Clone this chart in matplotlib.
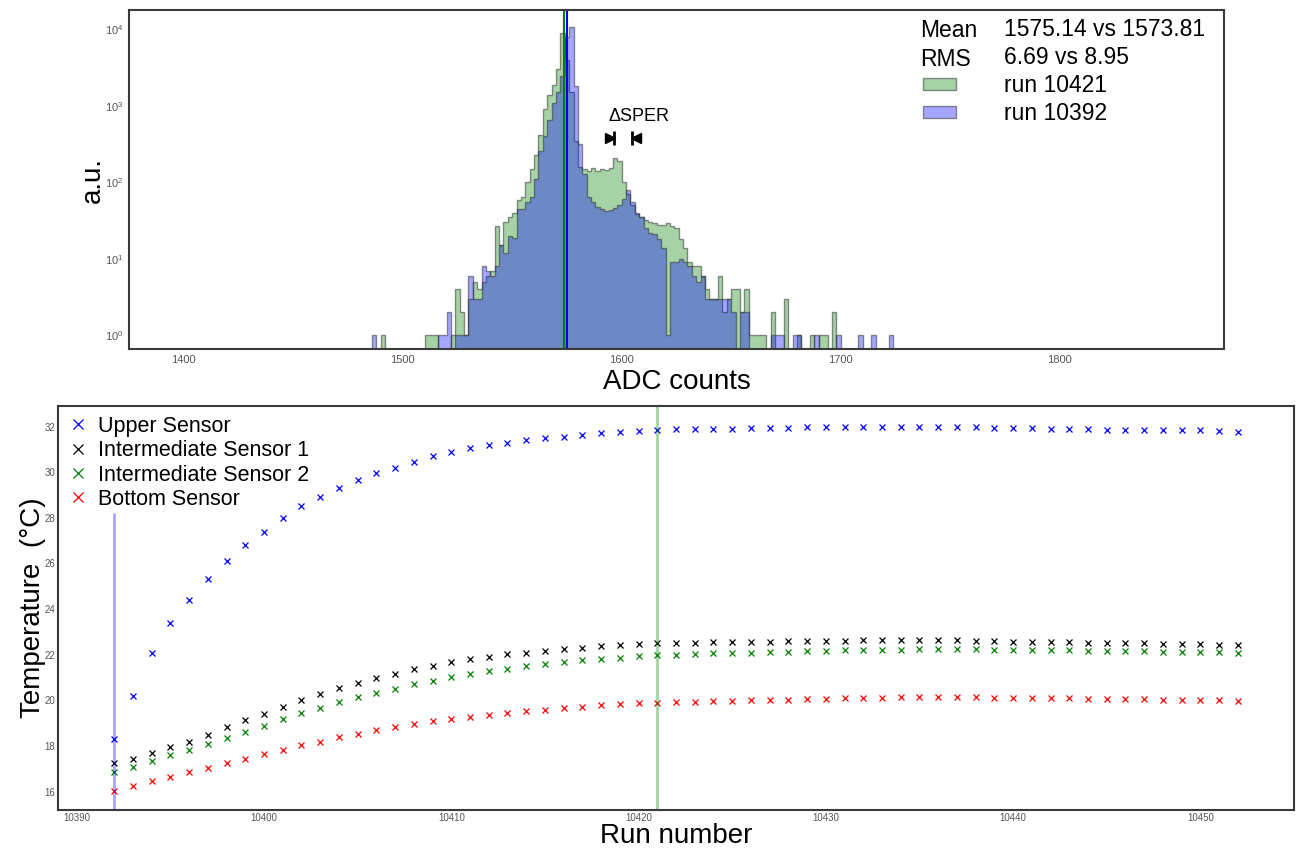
import numpy as np
import matplotlib
matplotlib.use("Agg")
import matplotlib.pyplot as plt
from matplotlib.patches import Patch
from matplotlib.ticker import NullLocator

plt.rcParams['font.family'] = ['Liberation Sans', 'DejaVu Sans']

# ADC spectrum, 2-count wide bins starting at 1484
bin_edges = np.arange(1484, 1726, 2)
counts_10421 = [
    0, 0, 0, 1, 0, 0, 0, 0, 0, 0,
    0, 0, 0, 1, 1, 1, 0, 0, 0, 1,
    4, 2, 1, 3, 5, 4, 5, 6, 7, 27,
    15, 30, 35, 40, 58, 65, 100, 150, 230, 420,
    900, 1400, 1900, 3000, 9000, 4000, 1500, 350, 160, 150,
    140, 155, 140, 150, 145, 155, 210, 190, 100, 70,
    50, 38, 35, 32, 30, 29, 28, 28, 29, 27,
    25, 18, 14, 9, 8, 8, 6, 4, 3, 3,
    6, 2, 3, 4, 4, 2, 4, 1, 1, 1,
    1, 0, 2, 0, 0, 3, 0, 0, 1, 0,
    0, 1, 0, 1, 1, 0, 2, 0, 0, 0,
    0, 0, 0, 0, 0, 0, 0, 0, 0, 0,
]
counts_10392 = [
    0, 1, 0, 0, 0, 0, 0, 0, 0, 0,
    0, 0, 0, 0, 0, 0, 1, 1, 2, 0,
    1, 1, 1, 6, 3, 3, 8, 7, 6, 8,
    15, 12, 20, 19, 45, 45, 55, 65, 110, 260,
    400, 650, 1100, 1500, 2500, 8000, 10700, 1800, 320, 130,
    65, 55, 48, 45, 42, 44, 46, 50, 60, 80,
    55, 40, 35, 25, 22, 21, 18, 14, 1, 9,
    9, 10, 9, 8, 6, 5, 6, 3, 3, 3,
    3, 3, 3, 2, 0, 2, 2, 0, 0, 0,
    0, 0, 1, 1, 1, 0, 0, 1, 1, 0,
    0, 0, 1, 0, 0, 0, 0, 1, 0, 0,
    0, 0, 1, 0, 0, 1, 0, 0, 0, 1,
]
mean_10421 = 1573.81
mean_10392 = 1575.14
rms_10421 = 8.95
rms_10392 = 6.69

# temperature per run
runs = np.arange(10392, 10453)
t_upper = [
    18.3, 20.2, 22.1, 23.4, 24.4, 25.3, 26.1, 26.8, 27.4, 28.0,
    28.5, 28.9, 29.3, 29.65, 29.95, 30.2, 30.45, 30.7, 30.9, 31.05,
    31.2, 31.3, 31.4, 31.5, 31.55, 31.65, 31.7, 31.75, 31.8, 31.85,
    31.9, 31.9, 31.9, 31.9, 31.92, 31.95, 31.95, 31.97, 31.97, 32.0,
    32.0, 32.0, 31.98, 31.98, 32.0, 32.0, 31.97, 31.95, 31.93, 31.92,
    31.9, 31.9, 31.88, 31.87, 31.86, 31.85, 31.85, 31.84, 31.83, 31.82,
    31.78,
]
t_inter1 = [
    17.25, 17.42, 17.68, 17.95, 18.2, 18.5, 18.83, 19.13, 19.42, 19.72,
    20.0, 20.28, 20.55, 20.78, 20.98, 21.18, 21.37, 21.53, 21.67, 21.8,
    21.92, 22.02, 22.1, 22.18, 22.25, 22.32, 22.37, 22.42, 22.46, 22.5,
    22.52, 22.53, 22.54, 22.55, 22.57, 22.58, 22.6, 22.6, 22.62, 22.62,
    22.63, 22.65, 22.65, 22.65, 22.65, 22.63, 22.62, 22.6, 22.58, 22.57,
    22.56, 22.55, 22.53, 22.52, 22.5, 22.5, 22.48, 22.47, 22.46, 22.45,
    22.42,
]
t_inter2 = [
    16.88, 17.1, 17.35, 17.6, 17.83, 18.1, 18.35, 18.62, 18.9, 19.17,
    19.43, 19.68, 19.92, 20.13, 20.33, 20.52, 20.7, 20.86, 21.02, 21.15,
    21.28, 21.4, 21.5, 21.6, 21.68, 21.76, 21.83, 21.88, 21.93, 21.98,
    22.0, 22.03, 22.06, 22.08, 22.1, 22.12, 22.14, 22.16, 22.18, 22.2,
    22.21, 22.22, 22.23, 22.24, 22.25, 22.25, 22.24, 22.23, 22.22, 22.21,
    22.2, 22.19, 22.18, 22.17, 22.16, 22.15, 22.14, 22.13, 22.12, 22.11,
    22.07,
]
t_bottom = [
    16.02, 16.25, 16.45, 16.65, 16.85, 17.05, 17.25, 17.45, 17.65, 17.85,
    18.03, 18.2, 18.38, 18.54, 18.69, 18.83, 18.96, 19.08, 19.19, 19.29,
    19.38, 19.46, 19.54, 19.6, 19.67, 19.73, 19.78, 19.83, 19.87, 19.91,
    19.93, 19.95, 19.96, 19.98, 20.0, 20.02, 20.04, 20.06, 20.08, 20.1,
    20.11, 20.12, 20.13, 20.14, 20.14, 20.14, 20.13, 20.12, 20.12, 20.11,
    20.1, 20.09, 20.08, 20.07, 20.06, 20.05, 20.04, 20.03, 20.02, 20.0,
    19.96,
]
run_ref = 10392
run_new = 10421

spine_col = '#3a3a3a'
tick_col = '#555555'

fig = plt.figure(figsize=(13, 8.49), dpi=100)
ax1 = fig.add_axes([0.0992, 0.5889, 0.8423, 0.3993])
ax2 = fig.add_axes([0.0446, 0.0459, 0.9508, 0.4759])

# --- top: ADC histograms
green_face = (0, 0.5, 0, 0.35)
blue_face = (0, 0, 1, 0.35)
edge = (0.2, 0.22, 0.2, 0.55)
ax1.stairs(counts_10421, bin_edges, fill=True, baseline=0.01,
           facecolor=green_face, edgecolor=edge, lw=1)
ax1.stairs(counts_10392, bin_edges, fill=True, baseline=0.01,
           facecolor=blue_face, edgecolor=edge, lw=1)
ax1.axvline(mean_10421, color='green', lw=1.5)
ax1.axvline(mean_10392, color='blue', lw=1.5)

ax1.set_yscale('log')
ax1.set_ylim(0.66, 1.8e4)
ax1.set_xlim(1375, 1875)
ax1.set_xticks([1400, 1500, 1600, 1700, 1800])
ax1.yaxis.set_minor_locator(NullLocator())
ax1.set_xlabel('ADC counts', fontsize=20, labelpad=3)
ax1.set_ylabel('a.u.', fontsize=20, labelpad=-1)

# SPE shift marker
ax1.text(1607.8, 727, 'ΔSPER', fontsize=13, ha='center', va='center')
ax1.plot([1594.6], [376], marker='>', ms=7, color='black')
ax1.plot([1596.4], [376], marker='|', ms=10, mew=2, color='black')
ax1.plot([1604.6], [376], marker='|', ms=10, mew=2, color='black')
ax1.plot([1606.4], [376], marker='<', ms=7, color='black')

handles = [Patch(alpha=0), Patch(alpha=0),
           Patch(facecolor=green_face, edgecolor=edge),
           Patch(facecolor=blue_face, edgecolor=edge)]
labels = [f'{mean_10392:.2f} vs {mean_10421:.2f}',
          f'{rms_10392:.2f} vs {rms_10421:.2f}',
          f'run {run_new}', f'run {run_ref}']
ax1.legend(handles, labels, loc='upper left', bbox_to_anchor=(0.7178, 1.0),
           fontsize=16.5, frameon=False, handlelength=1.4, handleheight=0.44,
           handletextpad=2.1, labelspacing=0.21, borderaxespad=0.0,
           borderpad=0.37)
ax1.text(0.7224, 0.94, 'Mean', transform=ax1.transAxes, fontsize=16.5,
         ha='left', va='center')
ax1.text(0.7224, 0.855, 'RMS', transform=ax1.transAxes, fontsize=16.5,
         ha='left', va='center')

# --- bottom: temperatures
mk = dict(ms=4.5, mew=0.9, ls='none', marker='x')
ax2.plot(runs, t_upper, color='blue', label='Upper Sensor', **mk)
ax2.plot(runs, t_inter1, color='black', label='Intermediate Sensor 1', **mk)
ax2.plot(runs, t_inter2, color='green', label='Intermediate Sensor 2', **mk)
ax2.plot(runs, t_bottom, color='red', label='Bottom Sensor', **mk)
ax2.vlines(run_ref, 15.2, 28.2, color='blue', alpha=0.35, lw=2)
ax2.axvline(run_new, color='green', alpha=0.35, lw=2)

ax2.set_xlim(10389, 10455)
ax2.set_ylim(15.2, 32.9)
ax2.set_xticks(np.arange(10390, 10451, 10))
ax2.set_yticks(np.arange(16, 33, 2))
ax2.set_xlabel('Run number', fontsize=20, labelpad=0)
ax2.set_ylabel('Temperature  (°C)', fontsize=20, labelpad=-1)
ax2.legend(loc='upper left', fontsize=15.5, frameon=False, markerscale=1.7,
           handlelength=1.0, handletextpad=0.4, labelspacing=0.16,
           borderaxespad=0.45, borderpad=0.0)

for ax in (ax1, ax2):
    for sp in ax.spines.values():
        sp.set_color(spine_col)
        sp.set_linewidth(1.5)
    ax.tick_params(length=0, labelcolor=tick_col)
ax1.tick_params(labelsize=8, pad=4)
ax2.tick_params(labelsize=7, pad=2)

fig.savefig('out.png', dpi=100)
